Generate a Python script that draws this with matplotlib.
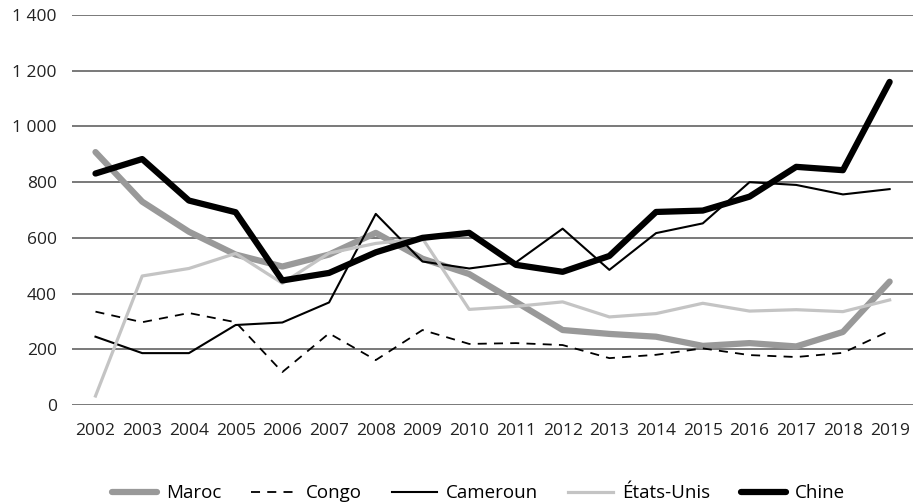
import matplotlib
matplotlib.use('Agg')
import matplotlib.pyplot as plt
from matplotlib.ticker import FuncFormatter

plt.rcParams['font.family'] = ['Open Sans', 'DejaVu Sans']

# données
annees = [str(a) for a in range(2002, 2020)]
maroc = [908, 730, 622, 540, 497, 540, 618, 525, 470, 370, 269, 255, 245, 212, 222, 210, 262, 443]
congo = [335, 297, 330, 297, 118, 257, 161, 269, 219, 222, 215, 168, 180, 203, 179, 172, 187, 266]
cameroun = [245, 186, 186, 287, 296, 368, 686, 515, 490, 512, 633, 485, 617, 652, 800, 790, 756, 775]
etats_unis = [32, 463, 490, 544, 437, 545, 580, 598, 343, 354, 370, 316, 328, 365, 337, 342, 335, 377]
chine = [831, 883, 734, 692, 447, 474, 548, 600, 618, 503, 478, 535, 693, 698, 748, 855, 843, 1160]

fig = plt.figure(figsize=(9.13, 5.03), dpi=100)
ax = fig.add_axes([0.079, 0.195, 0.921, 0.775])

x = range(len(annees))
ax.plot(x, maroc, color='#999999', lw=4.5, solid_capstyle='round', label='Maroc')
ax.plot(x, congo, color='black', lw=1.3, ls=(0, (5, 4)), label='Congo')
ax.plot(x, cameroun, color='black', lw=1.5, label='Cameroun')
ax.plot(x, etats_unis, color='#c4c4c4', lw=2.3, label='États-Unis')
ax.plot(x, chine, color='black', lw=4.5, solid_capstyle='round', label='Chine')

ax.set_xlim(-0.5, len(annees) - 0.5)
ax.set_ylim(0, 1400)
ax.set_yticks(range(0, 1401, 200))
ax.yaxis.set_major_formatter(FuncFormatter(lambda v, p: '{:,}'.format(int(v)).replace(',', ' ')))
ax.set_xticks(list(x))
ax.set_xticklabels(annees)
ax.grid(axis='y', color='#555555', lw=1.1)
ax.set_axisbelow(True)
for s in ax.spines.values():
    s.set_visible(False)
ax.tick_params(axis='both', length=0, labelsize=12.5, colors='#222222')
ax.tick_params(axis='y', pad=11)
ax.tick_params(axis='x', pad=13)

fig.legend(loc='lower center', bbox_to_anchor=(0.524, -0.032), ncol=5, frameon=False,
           fontsize=13.5, handlelength=2.4, columnspacing=1.6, handletextpad=0.5)

fig.savefig('out.png', dpi=100)
